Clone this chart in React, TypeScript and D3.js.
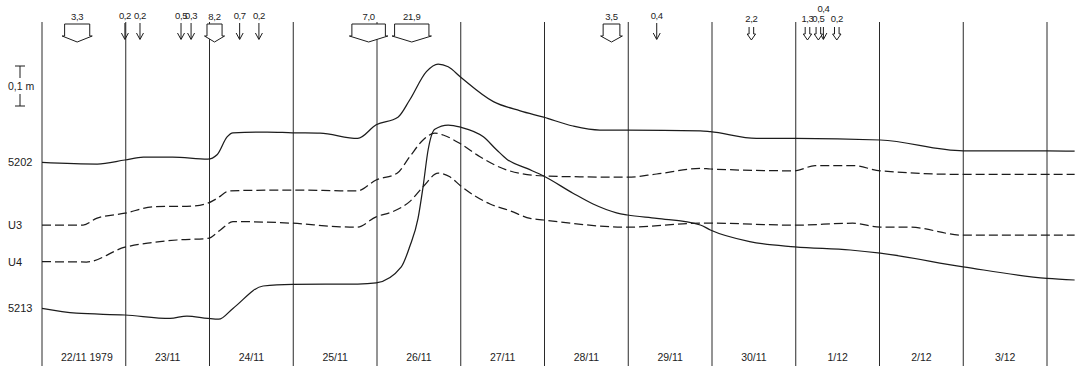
import React from "react";
import * as d3 from "d3";

const W = 1075;
const H = 370;

// Day labels, one per day column
const dayLabels = [
  "22/11 1979", "23/11", "24/11", "25/11", "26/11", "27/11",
  "28/11", "29/11", "30/11", "1/12", "2/12", "3/12",
];

// Water levels: [time in days since 22/11 00:00, level in cm above a common datum]
const gauge5202: [number, number][] = [
  [0, 44.4], [0.66, 44.0], [0.99, 45.0], [1.21, 45.7], [1.56, 45.7], [1.98, 45.2],
  [2.09, 46.3], [2.21, 50.8], [2.28, 51.8], [2.69, 52.0], [2.99, 51.8], [3.32, 51.7],
  [3.77, 50.4], [3.99, 53.8], [4.25, 55.7], [4.39, 60.0], [4.59, 67.1], [4.73, 69.0],
  [4.85, 68.3], [5.0, 65.7], [5.39, 59.6], [5.71, 57.3], [5.99, 55.7], [6.34, 53.5],
  [6.66, 52.5], [6.99, 52.5], [7.86, 52.3], [7.98, 52.1], [8.53, 50.4], [8.99, 50.4],
  [10.01, 50.0], [11.0, 47.3], [12.0, 47.3], [12.33, 47.2],
];

const wellU3: [number, number][] = [
  [0, 28.75], [0.49, 28.75], [0.65, 30.4], [0.99, 31.7], [1.33, 33.3], [1.8, 33.5],
  [1.98, 34.2], [2.09, 35.4], [2.24, 37.3], [2.99, 37.5], [3.56, 37.3], [3.76, 37.25],
  [3.99, 40.0], [4.24, 41.7], [4.39, 45.8], [4.55, 50.0], [4.69, 51.7], [4.79, 51.25],
  [5.0, 49.0], [5.23, 45.8], [5.55, 42.5], [5.99, 41.0], [6.42, 40.8], [6.99, 40.7],
  [7.34, 41.5], [7.86, 42.9], [7.98, 42.75], [8.99, 42.3], [9.23, 43.6], [9.68, 43.6],
  [10.01, 42.3], [11.0, 41.4], [12.33, 41.4],
];

const wellU4: [number, number][] = [
  [0, 19.6], [0.53, 19.5], [0.99, 23.2], [1.29, 24.3], [1.61, 25.0], [1.98, 25.4],
  [2.13, 27.5], [2.28, 29.6], [2.99, 29.2], [3.56, 28.3], [3.76, 28.2], [3.99, 30.8],
  [4.19, 32.1], [4.39, 34.6], [4.55, 38.3], [4.73, 41.7], [4.87, 40.8], [5.0, 38.5],
  [5.35, 34.0], [5.59, 32.3], [5.83, 30.4], [5.99, 30.0], [6.99, 28.2], [7.86, 29.2],
  [7.98, 29.2], [8.99, 28.7], [9.68, 29.2], [10.01, 28.2], [10.36, 28.2], [11.0, 26.2],
  [12.33, 26.2],
];

const gauge5213: [number, number][] = [
  [0, 7.9], [0.41, 6.7], [0.99, 6.25], [1.53, 5.4], [1.73, 6.0], [1.98, 5.4],
  [2.11, 5.2], [2.28, 7.9], [2.64, 13.5], [2.99, 13.9], [3.77, 14.0], [3.99, 14.3],
  [4.29, 18.3], [4.39, 23.3], [4.49, 30.4], [4.55, 38.3], [4.61, 47.5], [4.69, 52.7],
  [4.85, 53.75], [5.0, 53.2], [5.27, 50.8], [5.43, 47.5], [5.55, 45.2], [5.79, 42.9],
  [5.99, 41.0], [6.34, 36.7], [6.58, 34.0], [6.86, 31.8], [6.99, 31.25], [7.34, 30.4],
  [7.86, 28.75], [7.98, 27.5], [8.45, 24.6], [8.99, 23.3], [9.65, 22.5], [10.01, 21.7],
  [11.0, 18.3], [12.0, 15.4], [12.33, 15.0],
];

const seriesNames = ["5202", "U3", "U4", "5213"];
const seriesData = [gauge5202, wellU3, wellU4, gauge5213];
const seriesDashed = [false, true, true, false];

// Precipitation (mm): heavy falls drawn as block arrows spanning their duration
const blockFrom = [0.27, 1.97, 3.7, 4.21, 6.7];
const blockTo = [0.57, 2.15, 4.1, 4.62, 6.9];
const blockLabels = ["3,3", "8,2", "7,0", "21,9", "3,5"];

// Light rain: single arrows
const rainTimes = [0.99, 1.17, 1.66, 1.78, 2.36, 2.59, 7.34, 9.33];
const rainLabels = ["0,2", "0,2", "0,5", "0,3", "0,7", "0,2", "0,4", "0,4"];

// Snow: hollow arrows
const snowTimes = [8.47, 9.14, 9.27, 9.49];
const snowLabels = ["2,2", "1,3", "0,5", "0,2"];

const INK = "#1c1c1c";
const FONT = "'Liberation Sans', Arial, sans-serif";

export default function App() {
  const x = d3.scaleLinear().domain([0, 12]).range([42, 1047]);
  const y = d3.scaleLinear().domain([0, 85]).range([340, 0]);

  const line = d3
    .line<[number, number]>()
    .x((d) => x(d[0]))
    .y((d) => y(d[1]))
    .curve(d3.curveMonotoneX);

  const days = d3.range(0, 13);

  // Scale bar: 0,1 m
  const barBottom = y(58.5);
  const barTop = y(68.5);
  const barMid = (barTop + barBottom) / 2;

  const blockTop = 24;
  const blockShoulder = 36;
  const blockTip = 42;

  return (
    <svg
      width={W}
      height={H}
      style={{ position: "absolute", left: 0, top: 0, background: "#fff" }}
      fontFamily={FONT}
    >
      <rect width={W} height={H} fill="#fff" />

      {/* day separators */}
      {days.map((d) => (
        <line
          key={d}
          x1={x(d)}
          x2={x(d)}
          y1={22}
          y2={366}
          stroke="#2a2a2a"
          strokeWidth={1}
        />
      ))}

      {/* day labels */}
      {dayLabels.map((lab, i) => (
        <text
          key={lab}
          x={x(i + 0.5) + (i === 0 ? 3 : 0)}
          y={361}
          fontSize={10.5}
          textAnchor="middle"
          fill={INK}
        >
          {lab}
        </text>
      ))}

      {/* level curves */}
      {seriesData.map((data, i) => (
        <path
          key={seriesNames[i]}
          d={line(data) || ""}
          fill="none"
          stroke={INK}
          strokeWidth={1.25}
          strokeDasharray={seriesDashed[i] ? "9,4" : undefined}
        />
      ))}

      {/* series names */}
      {seriesData.map((data, i) => (
        <text
          key={"n" + seriesNames[i]}
          x={seriesNames[i].startsWith("U") ? 8 : 8}
          y={y(data[0][1]) + 4}
          fontSize={11}
          fill={INK}
        >
          {seriesNames[i]}
        </text>
      ))}

      {/* scale bar */}
      <g stroke={INK} strokeWidth={1}>
        <line x1={15} x2={25} y1={barTop} y2={barTop} />
        <line x1={20} x2={20} y1={barTop} y2={barMid - 8} />
        <line x1={20} x2={20} y1={barMid + 8} y2={barBottom} />
        <line x1={15} x2={25} y1={barBottom} y2={barBottom} />
      </g>
      <text x={8} y={barMid + 4} fontSize={10.5} fill={INK}>
        0,1 m
      </text>

      {/* heavy precipitation */}
      {blockLabels.map((lab, i) => {
        const a = x(blockFrom[i]);
        const b = x(blockTo[i]);
        const c = (a + b) / 2;
        const flare = 2.5;
        const pts = [
          [a, blockTop],
          [b, blockTop],
          [b, blockShoulder],
          [b + flare, blockShoulder],
          [c, blockTip],
          [a - flare, blockShoulder],
          [a, blockShoulder],
        ];
        return (
          <g key={"b" + i}>
            <polygon
              points={pts.map((p) => p.join(",")).join(" ")}
              fill="#fff"
              stroke={INK}
              strokeWidth={1}
              strokeLinejoin="miter"
            />
            <text
              x={c}
              y={blockTop - 4}
              fontSize={9.5}
              textAnchor="middle"
              fill={INK}
              letterSpacing={-0.3}
            >
              {lab}
            </text>
          </g>
        );
      })}

      {/* light rain */}
      {rainLabels.map((lab, i) => {
        const cx = x(rainTimes[i]);
        const raised = i === rainLabels.length - 1;
        return (
          <g key={"r" + i}>
            <g stroke={INK} strokeWidth={1} fill="none">
              <line x1={cx} x2={cx} y1={raised ? 27 : 23} y2={39} />
              <polyline points={`${cx - 3.5},33 ${cx},39.5 ${cx + 3.5},33`} />
            </g>
            <text
              x={cx}
              y={raised ? 12 : 19}
              fontSize={9.5}
              textAnchor="middle"
              fill={INK}
              letterSpacing={-0.4}
            >
              {lab}
            </text>
          </g>
        );
      })}

      {/* snow */}
      {snowLabels.map((lab, i) => {
        const cx = x(snowTimes[i]);
        const s = 2.3;
        const h = 4.2;
        const pts = [
          [cx - s, 27],
          [cx - s, 34],
          [cx - h, 34],
          [cx, 40],
          [cx + h, 34],
          [cx + s, 34],
          [cx + s, 27],
        ];
        return (
          <g key={"s" + i}>
            <polyline
              points={pts.map((p) => p.join(",")).join(" ")}
              fill="#fff"
              stroke={INK}
              strokeWidth={1}
            />
            <text
              x={cx}
              y={22}
              fontSize={9.5}
              textAnchor="middle"
              fill={INK}
              letterSpacing={-0.4}
            >
              {lab}
            </text>
          </g>
        );
      })}
    </svg>
  );
}
